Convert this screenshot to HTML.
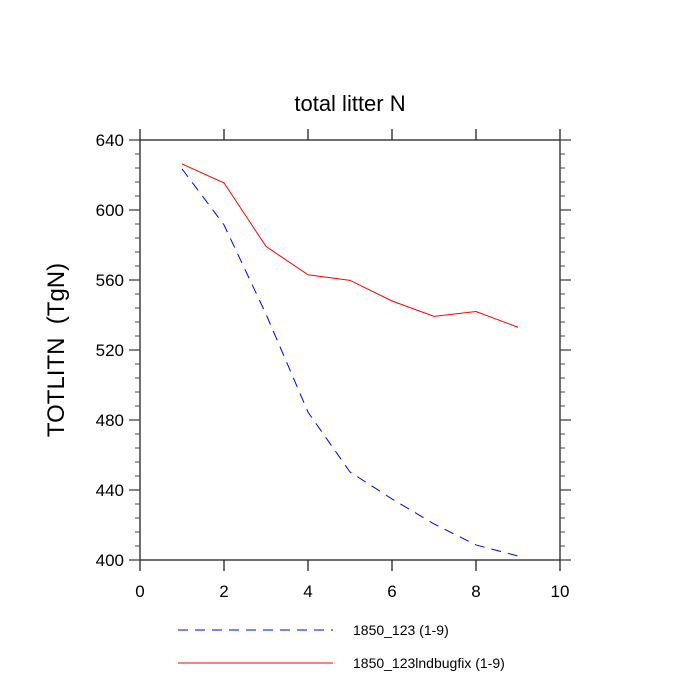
<!DOCTYPE html>
<html><head><meta charset="utf-8"><style>body{margin:0;background:#fff}svg{display:block}text{font-family:"Liberation Sans",sans-serif}</style></head>
<body>
<svg id="chart" width="700" height="700" viewBox="0 0 700 700" xmlns="http://www.w3.org/2000/svg">
<text x="350" y="111" text-anchor="middle" font-size="22">total litter N</text>
<text transform="translate(64,350) rotate(-90)" text-anchor="middle" font-size="24" xml:space="preserve" style="white-space:pre">TOTLITN  (TgN)</text>
<g id="axes"></g>
<g id="series"></g>
<g id="legend"></g>
</svg>
<script>
const xValues=[1,2,3,4,5,6,7,8,9];
const seriesBlue=[623.5,591.5,540.5,484.5,450.3,434.9,420.6,408.6,402.3];
const seriesRed=[626.3,615.5,579.2,563,559.8,548,539.2,542,533];
const xTicks=[0,2,4,6,8,10];
const yTicks=[400,440,480,520,560,600,640];
const seriesNames=["1850_123 (1-9)","1850_123lndbugfix (1-9)"];
const L=140,R=560,T=140,B=560;
const sx=v=>L+(v-0)/10*(R-L);
const sy=v=>B-(v-400)/240*(B-T);
const NS="http://www.w3.org/2000/svg";
function mk(p,t,a){const e=document.createElementNS(NS,t);for(const k in a)e.setAttribute(k,a[k]);p.appendChild(e);return e;}
const ax=document.getElementById('axes');
const frame=mk(ax,'rect',{x:L,y:T,width:R-L,height:B-T,fill:'none',stroke:'#222','stroke-width':1.3});


xTicks.forEach(v=>{const x=sx(v);
 mk(ax,'line',{x1:x,y1:B,x2:x,y2:B+11,stroke:'#222','stroke-width':1.3});
 mk(ax,'line',{x1:x,y1:T,x2:x,y2:T-11,stroke:'#222','stroke-width':1.3});
 const t=mk(ax,'text',{x:x,y:B+37,'text-anchor':'middle','font-size':17});t.textContent=v;
 
 
});
for(let v=400;v<=640;v+=8){const y=sy(v);const major=(v%40===0);const len=major?11:5;
 mk(ax,'line',{x1:L,y1:y,x2:L-len,y2:y,stroke:'#444','stroke-width':major?1.3:1});
 mk(ax,'line',{x1:R,y1:y,x2:R+len,y2:y,stroke:'#444','stroke-width':major?1.3:1});
}
yTicks.forEach(v=>{const t=mk(ax,'text',{x:L-16,y:sy(v)+6,'text-anchor':'end','font-size':17});t.textContent=v;
 
 
});
const sg=document.getElementById('series');
function pts(arr){return arr.map((v,i)=>sx(xValues[i])+','+sy(v)).join(' ');}
const pb=mk(sg,'polyline',{points:pts(seriesBlue),fill:'none',stroke:'#0000ff','stroke-width':1,'stroke-dasharray':'10,7'});


const pr=mk(sg,'polyline',{points:pts(seriesRed),fill:'none',stroke:'#ff0000','stroke-width':1});


const lg=document.getElementById('legend');
[[630,'#0000ff','10,7'],[663,'#ff0000','none']].forEach((d,i)=>{
 const g=mk(lg,'g',{});
 
 
 mk(g,'line',{x1:178,y1:d[0],x2:333,y2:d[0],stroke:d[1],'stroke-dasharray':d[2]});
 const t=mk(g,'text',{x:353,y:d[0]+5,'font-size':14});t.textContent=seriesNames[i];
});
</script>
</body></html>
